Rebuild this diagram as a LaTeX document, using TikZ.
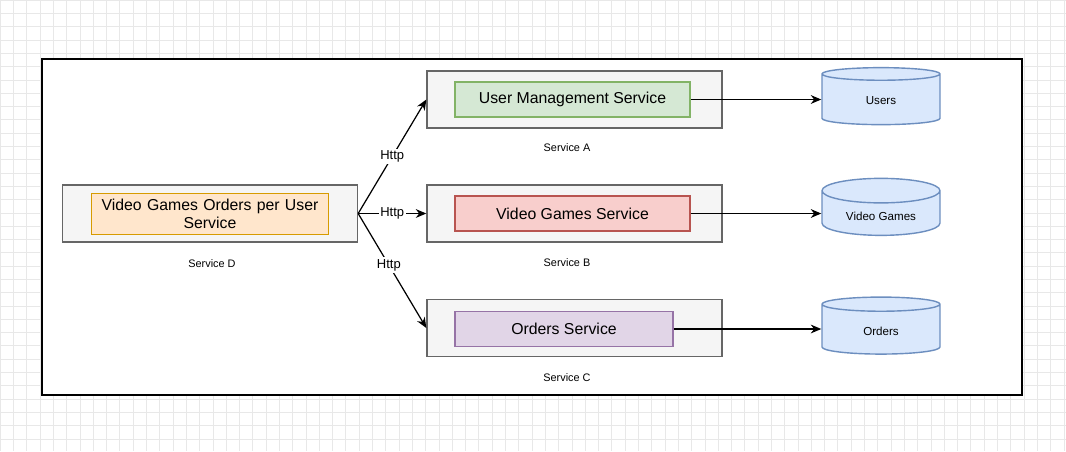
\documentclass[tikz,border=0pt]{standalone}
\usepackage{fontspec}
\setmainfont{Liberation Sans}
\usepackage{tikz}
\usetikzlibrary{positioning, arrows.meta, shapes.geometric}

\definecolor{boxfill}{HTML}{F5F5F5}
\definecolor{boxline}{HTML}{666666}
\definecolor{greenfill}{HTML}{D5E8D4}
\definecolor{greenline}{HTML}{82B366}
\definecolor{redfill}{HTML}{F8CECC}
\definecolor{redline}{HTML}{B85450}
\definecolor{purplefill}{HTML}{E1D5E7}
\definecolor{purpleline}{HTML}{9673A6}
\definecolor{orangefill}{HTML}{FFE6CC}
\definecolor{orangeline}{HTML}{D79B00}
\definecolor{bluefill}{HTML}{DAE8FC}
\definecolor{blueline}{HTML}{6C8EBF}
\definecolor{gridline}{HTML}{E8E8E8}

\tikzset{
  service/.style={draw=boxline, fill=boxfill, line width=0.8pt, minimum width=5.9cm, minimum height=1.14cm},
  inner/.style={line width=0.6pt, minimum height=0.7cm, font=\fontsize{9}{10}\selectfont, align=center},
  caption/.style={font=\fontsize{6.2}{7}\selectfont},
  store/.style={cylinder, shape border rotate=90, aspect=0.3, draw=blueline, fill=bluefill, line width=0.8pt,
    minimum width=2.36cm, minimum height=1.14cm, font=\fontsize{6.6}{7}\selectfont},
  link/.style={-{Stealth[length=6pt, width=5pt]}, line width=0.7pt},
  http/.style={fill=white, inner sep=1pt, font=\fontsize{7.4}{8}\selectfont}
}

\begin{document}
\begin{tikzpicture}[x=0.02cm, y=-0.02cm]
\useasboundingbox (0,0) rectangle (1066,451);
% background grid
\draw[gridline, line width=0.3pt, step=0.266cm] (0,0) grid (1066,451);
\draw[black, line width=1pt, fill=white] (42,59) rectangle (1022,395);

% services
\node[service] (svcD) at (210,213.5) {};
\node[inner, draw=orangeline, fill=orangefill, minimum width=4.68cm, text width=4.5cm] (coreD) at (210,214)
  {Video Games Orders per User\\Service};
\node[caption] at (212,264) {Service D};

\node[service] (svcA) at (574.5,99.5) {};
\node[inner, draw=greenline, fill=greenfill, minimum width=4.7cm] (coreA) at (572.5,99.5) {User Management Service};
\node[caption] at (567,148) {Service A};

\node[service] (svcB) at (574.5,213.5) {};
\node[inner, draw=redline, fill=redfill, minimum width=4.7cm] (coreB) at (572.5,213.5) {Video Games Service};
\node[caption] at (567,263) {Service B};

\node[service] (svcC) at (574.5,328) {};
\node[inner, draw=purpleline, fill=purplefill, minimum width=4.36cm] (coreC) at (564,329) {Orders Service};
\node[caption] at (567,378) {Service C};

% databases
\node[store] (dbUsers) at (881,101) {Users};
\node[store] (dbGames) at (881,216) {Video Games};
\node[store] (dbOrders) at (881,331) {Orders};

% calls
\draw[link] (svcD.east) -- (svcA.west) node[http, pos=0.5] {Http};
\draw[link] (svcD.east) -- (svcB.west) node[http, pos=0.5] {Http};
\draw[link] (svcD.east) -- (svcC.west) node[http, pos=0.45] {Http};

\draw[link] (coreA.east) -- (dbUsers.west |- coreA.east);
\draw[link] (coreB.east) -- (dbGames.west |- coreB.east);
\draw[link] (coreC.east) -- (dbOrders.west |- coreC.east);
\end{tikzpicture}
\end{document}
